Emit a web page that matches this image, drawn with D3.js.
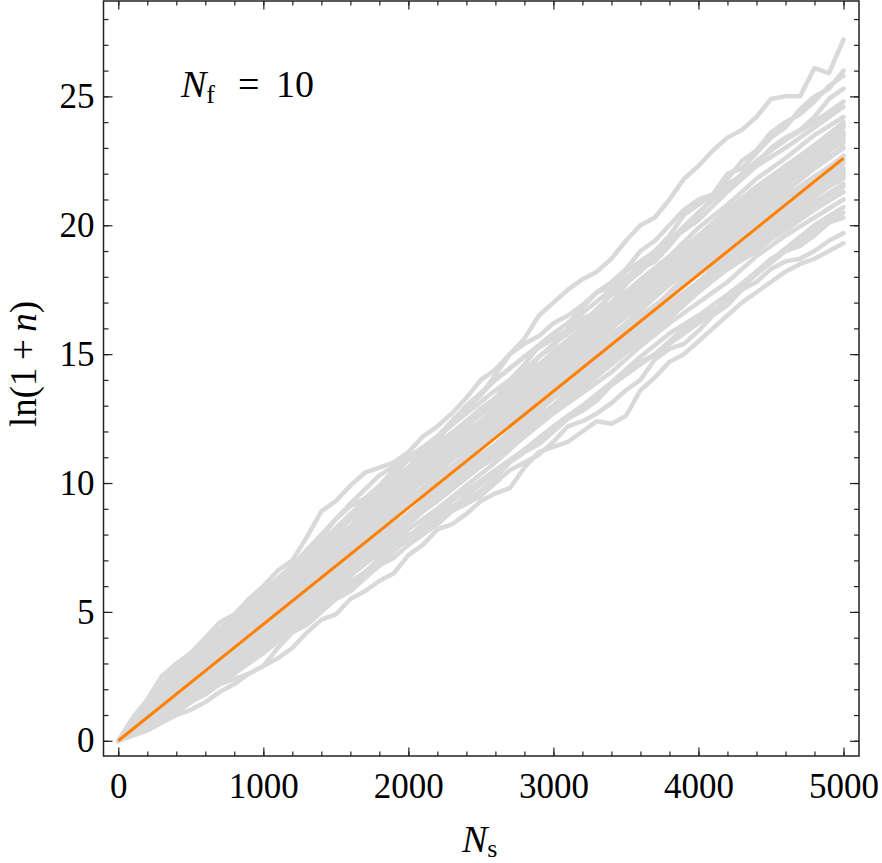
<!DOCTYPE html>
<html>
<head>
<meta charset="utf-8">
<script src="https://cdn.jsdelivr.net/npm/d3@7"></script>
<style>
  body { margin: 0; background: #fff; }
  svg text { font-family: "Liberation Serif", "DejaVu Serif", serif; fill: #000; }
</style>
</head>
<body>
<svg id="chart"></svg>
<script>
// runs on the edge of the bundle, read every 100 steps
const stepsFine = d3.range(0, 5001, 100);
const edgeWalks = [
  [0, 0.7, 1.1, 1.5, 2.2, 2.5, 3.1, 3.7, 4.0, 4.7, 5.0, 5.4, 6.1, 6.4, 7.0, 7.8, 8.3, 9.0, 9.4, 9.7, 10.4, 11.1, 11.6, 12.4, 12.9, 13.4, 14.2, 15.0, 15.6, 16.5, 17.0, 17.5, 17.9, 18.2, 18.7, 19.4, 20.0, 20.3, 21.0, 21.8, 22.3, 22.9, 23.4, 23.7, 24.2, 24.9, 25.0, 25.0, 26.1, 25.9, 27.2],
  [0, 0.9, 1.6, 2.5, 3.0, 3.4, 4.0, 4.6, 4.9, 5.5, 6.0, 6.6, 7.0, 7.9, 8.9, 9.3, 9.9, 10.4, 10.6, 10.8, 11.2, 11.8, 12.2, 12.7, 13.3, 14.0, 14.4, 15.0, 15.4, 15.7, 16.2, 16.5, 16.9, 17.4, 17.6, 18.2, 18.6, 19.0, 19.6, 20.4, 20.8, 21.2, 22.0, 22.2, 22.8, 23.4, 23.8, 24.5, 25.0, 25.3, 26.0],
  [0, 0.8, 1.3, 2.0, 2.6, 3.3, 3.7, 4.0, 4.6, 5.3, 5.7, 6.0, 6.6, 7.4, 7.9, 8.6, 9.1, 9.4, 9.9, 10.5, 10.9, 11.1, 11.6, 11.9, 12.4, 12.9, 13.3, 14.0, 14.6, 15.3, 15.8, 16.2, 16.8, 17.4, 17.8, 18.3, 19.0, 19.4, 20.0, 20.6, 21.0, 21.2, 21.8, 22.5, 22.9, 23.6, 24.0, 24.3, 24.8, 25.4, 25.8],
  [0, 0.5, 0.9, 1.5, 2.0, 2.7, 3.2, 3.5, 4.1, 4.8, 5.2, 5.5, 6.0, 6.7, 7.2, 7.5, 8.0, 8.7, 9.2, 9.6, 10.2, 10.9, 11.4, 11.8, 12.4, 12.7, 13.2, 13.8, 14.2, 14.9, 15.3, 16.0, 16.4, 16.6, 17.0, 17.7, 18.3, 18.6, 19.2, 19.9, 20.4, 21.1, 21.6, 21.9, 22.4, 23.0, 23.4, 23.7, 24.2, 24.9, 25.3],
  [0, 0.2, 0.4, 0.7, 1.0, 1.2, 1.5, 1.9, 2.2, 2.6, 2.9, 3.2, 3.6, 4.2, 4.7, 4.9, 5.5, 5.8, 6.2, 6.5, 7.2, 7.6, 8.2, 8.4, 8.8, 9.3, 9.6, 9.8, 10.6, 11.2, 11.4, 11.6, 12.0, 12.4, 12.3, 12.6, 13.6, 14.1, 14.7, 15.0, 15.5, 16.0, 16.5, 17.0, 17.4, 17.8, 18.2, 18.5, 18.7, 19.0, 19.3],
  [0, 0.3, 0.5, 0.9, 1.1, 1.5, 1.8, 2.2, 2.4, 2.6, 2.9, 3.6, 4.2, 4.5, 5.0, 5.5, 5.8, 6.3, 6.8, 7.1, 7.6, 8.0, 8.4, 8.9, 9.2, 9.5, 10.0, 10.5, 10.8, 11.1, 11.6, 12.2, 12.4, 12.7, 13.1, 13.6, 14.0, 14.8, 15.2, 15.4, 15.9, 16.5, 16.9, 17.5, 17.8, 18.3, 18.6, 18.7, 19.0, 19.4, 19.7],
  [0, 0.4, 0.6, 1.0, 1.3, 1.7, 2.0, 2.3, 2.7, 3.2, 3.5, 4.0, 4.4, 4.8, 5.3, 5.8, 6.2, 6.5, 7.1, 7.6, 8.0, 8.2, 8.7, 9.1, 9.3, 9.7, 10.2, 10.8, 11.2, 11.5, 12.0, 12.5, 12.8, 13.2, 13.8, 14.3, 14.7, 15.0, 15.5, 16.0, 16.3, 16.9, 17.3, 17.7, 18.2, 18.7, 19.0, 19.2, 19.6, 20.1, 20.3]
];

// runs inside the bundle, read every 200 steps
const steps = d3.range(0, 5001, 200);
const bandWalks = [
  [0, 1.2, 2.3, 3.3, 4.4, 5.5, 6.6, 7.4, 8.6, 9.8, 10.9, 11.8, 12.7, 13.6, 14.4, 15.4, 16.2, 17.3, 18.2, 19.4, 20.2, 21.3, 22.3, 23.0, 23.8, 24.6],
  [0, 1.5, 2.9, 3.9, 4.8, 5.7, 6.8, 8.0, 9.2, 10.3, 11.0, 11.8, 12.9, 14.0, 14.9, 15.6, 16.3, 17.0, 17.8, 18.7, 19.6, 20.4, 21.4, 22.2, 23.1, 23.9],
  [0, 1.2, 2.4, 3.5, 4.5, 5.5, 6.5, 7.7, 8.8, 9.8, 10.6, 11.8, 13.0, 14.0, 14.9, 15.8, 16.6, 17.5, 18.4, 19.4, 20.5, 21.5, 22.5, 23.3, 24.0, 24.8],
  [0, 0.5, 1.1, 1.9, 2.6, 3.4, 4.3, 5.1, 5.9, 6.8, 7.9, 8.9, 9.7, 10.5, 11.3, 12.2, 13.0, 13.9, 14.9, 15.8, 16.5, 17.3, 18.2, 19.1, 20.0, 20.7],
  [0, 0.6, 1.3, 2.2, 3.0, 3.7, 4.5, 5.3, 6.1, 7.0, 7.8, 8.6, 9.5, 10.4, 11.3, 12.1, 12.9, 13.8, 14.6, 15.4, 16.2, 17.1, 18.1, 19.0, 19.8, 20.5],
  [0, 0.8, 1.7, 2.5, 3.3, 4.3, 5.4, 6.5, 7.5, 8.5, 9.6, 10.7, 11.6, 12.5, 13.3, 14.2, 15.0, 16.0, 16.9, 17.7, 18.6, 19.5, 20.4, 21.3, 22.2, 23.0],
  [0, 1.0, 2.1, 3.2, 4.2, 5.0, 5.9, 6.8, 7.9, 9.0, 10.0, 10.8, 11.8, 12.9, 14.0, 15.0, 15.8, 16.5, 17.3, 18.4, 19.3, 20.0, 20.9, 21.8, 22.4, 23.3],
  [0, 0.7, 1.5, 2.4, 3.3, 4.0, 4.9, 5.8, 6.6, 7.5, 8.6, 9.5, 10.4, 11.4, 12.2, 13.0, 14.1, 15.2, 16.0, 16.8, 17.6, 18.5, 19.5, 20.3, 21.2, 22.0],
  [0, 1.2, 2.4, 3.5, 4.5, 5.4, 6.2, 7.1, 8.0, 8.9, 9.7, 10.6, 11.5, 12.3, 13.2, 14.3, 15.2, 16.1, 17.0, 17.8, 18.7, 19.4, 20.2, 21.1, 21.9, 22.6],
  [0, 0.9, 1.8, 2.9, 3.8, 4.8, 5.9, 7.0, 8.1, 9.2, 10.3, 11.3, 12.4, 13.3, 14.2, 15.0, 15.9, 16.9, 17.9, 18.8, 19.9, 20.8, 21.8, 22.6, 23.5, 24.2],
  [0, 0.6, 1.4, 2.2, 3.0, 3.9, 4.8, 5.6, 6.5, 7.4, 8.4, 9.4, 10.3, 11.0, 11.9, 12.8, 13.6, 14.7, 15.6, 16.6, 17.5, 18.3, 19.1, 19.8, 20.6, 21.3],
  [0, 1.1, 2.0, 2.8, 3.7, 4.6, 5.6, 6.7, 7.6, 8.4, 9.3, 10.1, 11.0, 12.0, 13.0, 13.8, 14.6, 15.4, 16.3, 17.4, 18.5, 19.6, 20.5, 21.5, 22.5, 23.5],
  [0, 1.4, 2.7, 3.7, 4.6, 5.6, 6.5, 7.3, 8.3, 9.3, 10.2, 11.0, 11.9, 12.8, 13.7, 14.6, 15.6, 16.4, 17.2, 18.0, 19.0, 20.1, 21.0, 21.8, 22.7, 23.8],
  [0, 0.7, 1.6, 2.6, 3.5, 4.4, 5.2, 6.0, 6.9, 7.9, 8.8, 9.8, 10.6, 11.4, 12.3, 13.3, 14.2, 15.0, 15.9, 16.9, 17.8, 18.8, 19.6, 20.4, 21.2, 21.8],
  [0, 1.0, 1.9, 2.9, 4.0, 5.1, 6.2, 7.2, 8.2, 9.2, 10.0, 10.9, 11.9, 12.9, 13.9, 15.0, 16.0, 17.0, 17.8, 18.6, 19.4, 20.3, 21.2, 22.0, 23.0, 23.9],
  [0, 0.8, 1.6, 2.5, 3.5, 4.6, 5.5, 6.4, 7.2, 8.0, 8.8, 9.7, 10.8, 11.9, 12.8, 13.6, 14.4, 15.3, 16.2, 17.0, 17.8, 18.6, 19.5, 20.5, 21.5, 22.4],
  [0, 1.2, 2.2, 3.0, 3.9, 4.8, 5.8, 6.9, 8.0, 8.8, 9.6, 10.5, 11.3, 12.1, 13.1, 14.0, 14.8, 15.7, 16.7, 17.7, 18.5, 19.2, 20.1, 21.0, 21.8, 22.5],
  [0, 0.9, 1.9, 2.8, 3.6, 4.5, 5.3, 6.2, 7.1, 8.1, 9.2, 10.4, 11.4, 12.2, 13.0, 13.8, 14.9, 15.8, 16.5, 17.3, 18.2, 19.1, 20.0, 20.8, 21.5, 22.2],
  [0, 0.6, 1.3, 2.1, 2.8, 3.6, 4.5, 5.5, 6.4, 7.3, 8.2, 9.0, 9.9, 10.8, 11.8, 12.7, 13.5, 14.3, 15.3, 16.2, 17.0, 17.8, 18.8, 19.6, 20.3, 21.0],
  [0, 1.3, 2.5, 3.4, 4.3, 5.3, 6.3, 7.5, 8.6, 9.5, 10.4, 11.2, 12.2, 13.1, 13.9, 14.7, 15.6, 16.6, 17.6, 18.5, 19.5, 20.4, 21.1, 21.9, 22.8, 23.4],
  [0, 0.8, 1.8, 2.7, 3.4, 4.2, 5.1, 6.1, 7.2, 8.2, 9.1, 9.9, 10.7, 11.5, 12.5, 13.5, 14.3, 15.1, 15.9, 16.8, 17.8, 18.9, 19.8, 20.6, 21.3, 21.9],
  [0, 1.0, 2.0, 3.1, 4.1, 5.0, 5.9, 6.8, 7.6, 8.6, 9.6, 10.6, 11.7, 12.6, 13.4, 14.2, 15.2, 16.2, 17.1, 18.0, 18.8, 19.7, 20.7, 21.6, 22.3, 23.0],
  [0, 0.7, 1.5, 2.4, 3.4, 4.4, 5.4, 6.2, 7.0, 7.8, 8.7, 9.6, 10.5, 11.4, 12.4, 13.3, 14.1, 14.8, 15.6, 16.5, 17.5, 18.4, 19.2, 20.1, 20.9, 21.6],
  [0, 1.1, 2.3, 3.4, 4.3, 5.2, 6.3, 7.4, 8.3, 9.1, 10.1, 11.1, 12.0, 12.8, 13.7, 14.8, 15.8, 16.7, 17.5, 18.3, 19.2, 20.2, 21.3, 22.3, 23.1, 24.0],
  [0, 0.9, 1.7, 2.6, 3.6, 4.7, 5.7, 6.5, 7.4, 8.4, 9.4, 10.2, 11.1, 12.1, 13.1, 14.0, 14.8, 15.6, 16.4, 17.3, 18.3, 19.3, 20.3, 21.1, 21.8, 22.7],
  [0, 0.5, 1.2, 2.0, 2.9, 3.8, 4.7, 5.7, 6.7, 7.7, 8.6, 9.4, 10.3, 11.2, 12.1, 12.9, 13.8, 14.6, 15.5, 16.4, 17.4, 18.3, 19.0, 19.9, 20.8, 21.5],
  [0, 1.3, 2.6, 3.8, 4.7, 5.8, 6.8, 7.7, 8.6, 9.6, 10.6, 11.5, 12.4, 13.2, 14.1, 15.1, 16.0, 16.9, 17.7, 18.6, 19.6, 20.6, 21.5, 22.3, 23.0, 23.6],
  [0, 0.8, 1.7, 2.5, 3.4, 4.3, 5.1, 5.9, 6.8, 7.7, 8.7, 9.7, 10.5, 11.3, 12.1, 13.0, 13.9, 14.9, 15.8, 16.7, 17.5, 18.4, 19.3, 20.3, 21.3, 22.1],
  [0, 1.0, 2.1, 3.0, 3.9, 4.9, 6.0, 7.0, 7.9, 8.8, 9.8, 10.8, 11.7, 12.6, 13.6, 14.5, 15.3, 16.2, 17.2, 18.2, 19.1, 19.9, 20.7, 21.6, 22.6, 23.6],
  [0, 0.7, 1.4, 2.3, 3.1, 4.1, 5.0, 5.9, 6.8, 7.6, 8.5, 9.3, 10.2, 11.1, 12.0, 12.9, 13.7, 14.6, 15.6, 16.6, 17.6, 18.6, 19.5, 20.3, 21.1, 21.9],
  [0, 1.1, 2.2, 3.3, 4.3, 5.2, 6.1, 7.0, 7.8, 8.7, 9.7, 10.8, 11.8, 12.7, 13.5, 14.4, 15.4, 16.4, 17.3, 18.1, 18.9, 19.8, 20.9, 21.8, 22.6, 23.2]
];

// mean growth line (orange)
const meanX = [0, 5000];
const meanY = [0, 22.6];

const xMajor = [0, 1000, 2000, 3000, 4000, 5000];
const xMinor = d3.range(0, 5001, 200);
const yMajor = [0, 5, 10, 15, 20, 25];
const yMinor = d3.range(0, 29, 1);

const width = 882, height = 863;
const plot = { left: 103.5, right: 859, top: 1, bottom: 756 };

const svg = d3.select("#chart").attr("width", width).attr("height", height);

const x = d3.scaleLinear().domain([-102, 5107]).range([plot.left, plot.right]);
const y = d3.scaleLinear().domain([-0.59, 28.7]).range([plot.bottom, plot.top]);

const line = d3.line()
  .x(d => x(d[0]))
  .y(d => y(d[1]));

function drawRuns(runs, xs) {
  svg.append("g")
    .selectAll("path")
    .data(runs)
    .enter().append("path")
    .attr("d", w => line(w.map((v, i) => [xs[i], v])))
    .attr("fill", "none")
    .attr("stroke", "#d9d9d9")
    .attr("stroke-width", 4.5)
    .attr("stroke-linejoin", "round")
    .attr("stroke-linecap", "round");
}
drawRuns(bandWalks, steps);
drawRuns(edgeWalks, stepsFine);

// mean line
svg.append("path")
  .attr("d", line(meanX.map((v, i) => [v, meanY[i]])))
  .attr("fill", "none")
  .attr("stroke", "#ff8000")
  .attr("stroke-width", 3);

// axes: ticks point inward on all four sides
function styleAxis(g) {
  g.select(".domain").remove();
  g.selectAll(".tick line").attr("stroke", "#222").attr("stroke-width", 1.2);
  g.selectAll(".tick text").style("font-size", "35px");
}

svg.append("g").attr("transform", `translate(0,${plot.bottom})`)
  .call(d3.axisBottom(x).tickValues(xMinor).tickSize(-4.5).tickFormat(""))
  .call(styleAxis);
svg.append("g").attr("transform", `translate(0,${plot.bottom})`)
  .call(d3.axisBottom(x).tickValues(xMajor).tickSize(-8.5).tickPadding(17).tickFormat(d3.format("d")))
  .call(styleAxis);
svg.append("g").attr("transform", `translate(0,${plot.top})`)
  .call(d3.axisTop(x).tickValues(xMinor).tickSize(-4.5).tickFormat(""))
  .call(styleAxis);
svg.append("g").attr("transform", `translate(0,${plot.top})`)
  .call(d3.axisTop(x).tickValues(xMajor).tickSize(-8.5).tickFormat(""))
  .call(styleAxis);

svg.append("g").attr("transform", `translate(${plot.left},0)`)
  .call(d3.axisLeft(y).tickValues(yMinor).tickSize(-5).tickFormat(""))
  .call(styleAxis);
svg.append("g").attr("transform", `translate(${plot.left},0)`)
  .call(d3.axisLeft(y).tickValues(yMajor).tickSize(-9).tickPadding(9).tickFormat(d3.format("d")))
  .call(styleAxis);
svg.append("g").attr("transform", `translate(${plot.right},0)`)
  .call(d3.axisRight(y).tickValues(yMinor).tickSize(-5).tickFormat(""))
  .call(styleAxis);
svg.append("g").attr("transform", `translate(${plot.right},0)`)
  .call(d3.axisRight(y).tickValues(yMajor).tickSize(-9).tickFormat(""))
  .call(styleAxis);

// frame
svg.append("rect")
  .attr("x", plot.left).attr("y", plot.top)
  .attr("width", plot.right - plot.left).attr("height", plot.bottom - plot.top)
  .attr("fill", "none").attr("stroke", "#222").attr("stroke-width", 1.5);

// axis titles
const xt = svg.append("text")
  .attr("x", 462).attr("y", 852)
  .style("font-size", "38px");
xt.append("tspan").style("font-style", "italic").text("N");
xt.append("tspan").attr("dy", 5).style("font-size", "26px").text("s");

const yt = svg.append("text")
  .attr("transform", "translate(36,364) rotate(-90)")
  .attr("text-anchor", "middle")
  .style("font-size", "37px");
yt.append("tspan").text("ln(1\u2009+\u2009");
yt.append("tspan").style("font-style", "italic").text("n");
yt.append("tspan").text(")");

// run count label
const lab = svg.append("text")
  .attr("y", 97)
  .style("font-size", "38px");
lab.append("tspan").attr("x", 181).style("font-style", "italic").text("N");
lab.append("tspan").attr("dy", 6).style("font-size", "26px").text("f");
lab.append("tspan").attr("x", 238).attr("dy", -6).text("=");
lab.append("tspan").attr("x", 276).text("10");
</script>
</body>
</html>
